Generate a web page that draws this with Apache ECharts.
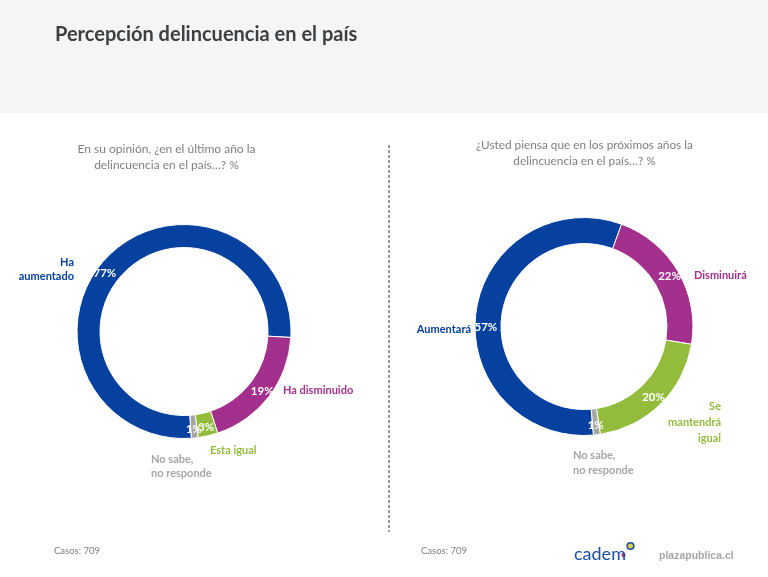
<!DOCTYPE html>
<html>
<head>
<meta charset="utf-8">
<script src="https://cdn.jsdelivr.net/npm/echarts@6/dist/echarts.min.js"></script>
<style>
html,body{margin:0;padding:0;background:#fff;}
#chart{width:768px;height:577px;}
</style>
</head>
<body>
<div id="chart"></div>
<script>
// ---- data ----
const titleText = 'Percepción delincuencia en el país';
const leftQuestion = ['En su opinión, ¿en el último año la', 'delincuencia en el país…? %'];
const rightQuestion = ['¿Usted piensa que en los próximos años la', 'delincuencia en el país…? %'];
const leftCategories = ['Ha aumentado', 'Ha disminuido', 'Esta igual', 'No sabe, no responde'];
const leftValues = [77, 19, 3, 1];
const rightCategories = ['Aumentará', 'Disminuirá', 'Se mantendrá igual', 'No sabe, no responde'];
const rightValues = [57, 22, 20, 1];
const casesText = 'Casos: 709';
const sliceColors = ['#0641A0', '#A3308C', '#93BC3D', '#A6A6A6'];

const FONT = 'Lato, "Open Sans", sans-serif';

function pieSeries(cats, vals, center, radius, startAngle, nudge) {
  return {
    type: 'pie',
    center: center,
    radius: radius,
    startAngle: startAngle,
    clockwise: true,
    silent: true,
    animation: false,
    avoidLabelOverlap: false,
    itemStyle: { borderColor: '#fff', borderWidth: 1 },
    label: {
      show: true,
      position: 'inside',
      formatter: '{c}%',
      color: '#fff',
      fontFamily: FONT,
      fontWeight: 'bold',
      fontSize: 11.5
    },
    labelLine: { show: false },
    labelLayout: function (p) {
      if (p.dataIndex === 0) return { dx: nudge[0], dy: nudge[1] };
      return {};
    },
    data: cats.map((c, i) => ({ name: c, value: vals[i], itemStyle: { color: sliceColors[i] } }))
  };
}

function txt(x, y, text, color, opts) {
  opts = opts || {};
  return {
    type: 'text',
    x: x, y: y,
    silent: true,
    z: 10,
    style: {
      text: text,
      fill: color,
      font: (opts.weight || 'bold') + ' ' + (opts.size || 11) + 'px ' + (opts.family || FONT),
      textAlign: opts.align || 'left',
      textVerticalAlign: 'middle',
      lineHeight: opts.lh || 15
    }
  };
}

const chart = echarts.init(document.getElementById('chart'), null, { renderer: 'canvas' });

const graphics = [
  { type: 'rect', shape: { x: 0, y: 0, width: 768, height: 113 }, style: { fill: '#F4F5F7' }, z: -10, silent: true },
  txt(55, 35, titleText, '#3F3F3F', { size: 20 }),
  txt(166.5, 157, leftQuestion.join('\n'), '#7F7F7F', { weight: 'normal', size: 12, align: 'center', lh: 16 }),
  txt(584.5, 153, rightQuestion.join('\n'), '#7F7F7F', { weight: 'normal', size: 11.8, align: 'center', lh: 16 }),
  { type: 'line', shape: { x1: 389, y1: 145, x2: 389, y2: 532 }, style: { stroke: '#7F7F7F', lineWidth: 1.6, lineDash: [3, 2] }, silent: true },
  // left labels
  txt(74, 269, 'Ha\naumentado', sliceColors[0], { align: 'right', lh: 14 }),
  txt(283, 390, leftCategories[1], sliceColors[1]),
  txt(210, 450, leftCategories[2], sliceColors[2]),
  txt(151, 466, 'No sabe,\nno responde', sliceColors[3], { lh: 14 }),
  // right labels
  txt(471, 329, rightCategories[0], sliceColors[0], { align: 'right' }),
  txt(694, 275, rightCategories[1], sliceColors[1]),
  txt(721, 422, 'Se\nmantendrá\nigual', sliceColors[2], { align: 'right', lh: 16 }),
  txt(573, 463, 'No sabe,\nno responde', sliceColors[3], { lh: 15 }),
  // footer
  txt(54, 551, casesText, '#7F7F7F', { weight: 'normal', size: 9.5 }),
  txt(421, 551, casesText, '#7F7F7F', { weight: 'normal', size: 9.5 }),
  txt(574, 554, 'cadem', '#1C4EA3', { weight: 'normal', size: 18 }),
  { type: 'circle', shape: { cx: 623.5, cy: 555, r: 2.2 }, style: { fill: '#C0379A' }, silent: true },
  { type: 'circle', shape: { cx: 630.5, cy: 546, r: 3.3 }, style: { fill: '#E2D23A', stroke: '#1C4EA3', lineWidth: 1.6 }, silent: true },
  txt(659, 556, 'plazapublica.cl', '#A6A6A6', { weight: 'bold', size: 10.5, family: '"Liberation Sans Narrow", "Liberation Sans", sans-serif' })
];

chart.setOption({
  backgroundColor: '#ffffff',
  animation: false,
  graphic: { elements: graphics },
  series: [
    pieSeries(leftCategories, leftValues, [184, 331.5], [84, 107], -86, [-9, 11]),
    pieSeries(rightCategories, rightValues, [584, 326.5], [83, 109], -85, [0, 14])
  ]
});
</script>
</body>
</html>
